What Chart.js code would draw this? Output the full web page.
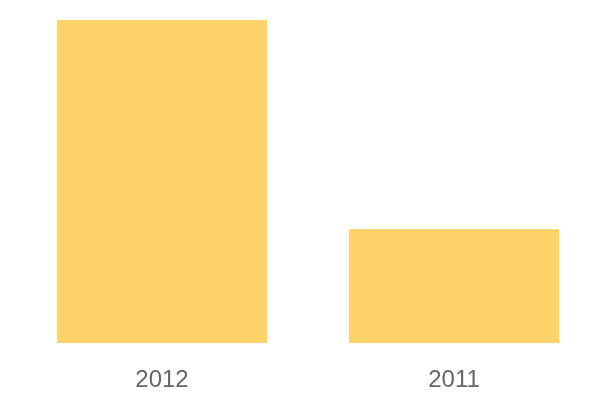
<!DOCTYPE html>
<html>
<head>
<meta charset="utf-8">
<script src="https://cdn.jsdelivr.net/npm/chart.js@4"></script>
<style>
html,body{margin:0;padding:0;background:#fff;}
#wrap{width:600px;height:400px;}
</style>
</head>
<body>
<div id="wrap"><canvas id="c" width="600" height="400"></canvas></div>
<script>
const categories = ["2012", "2011"];
const values = [100, 35.3];
const barColor = "#FED46A";

new Chart(document.getElementById("c"), {
  type: "bar",
  data: {
    labels: categories,
    datasets: [{
      data: values,
      backgroundColor: barColor,
      borderWidth: 0,
      barPercentage: 0.9,
      categoryPercentage: 0.8
    }]
  },
  options: {
    responsive: false,
    animation: false,
    layout: { padding: { left: 16, right: 0, top: 20, bottom: 0 } },
    plugins: { legend: { display: false }, tooltip: { enabled: false } },
    scales: {
      x: {
        grid: { display: false },
        border: { display: false },
        ticks: { color: "#666", padding: 15, font: { family: "'Liberation Sans', Arial, sans-serif", size: 24 } },
        afterFit: (scale) => { scale.height = 57; }
      },
      y: {
        display: false,
        min: 0,
        max: 100
      }
    }
  }
});
</script>
</body>
</html>
